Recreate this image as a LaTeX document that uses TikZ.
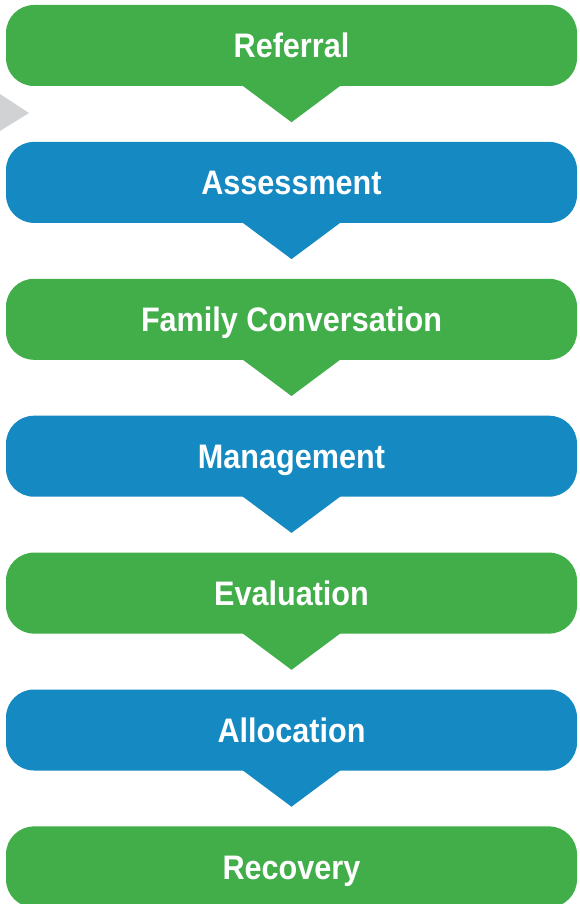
\documentclass[tikz,border=0pt]{standalone}
\usepackage{fontspec}
\setmainfont[FakeStretch=0.9]{Liberation Sans}
\usetikzlibrary{positioning}
\definecolor{stepgreen}{HTML}{41AE4A}
\definecolor{stepblue}{HTML}{1589C1}
\definecolor{pointgray}{HTML}{D1D2D4}
\begin{document}
\begin{tikzpicture}[x=1pt,y=-1pt,node distance=55.5pt]
\tikzstyle{stage}=[rounded corners=28pt, minimum width=571pt, minimum height=81pt, inner sep=0pt, text=white, text height=25pt, text depth=0pt, font=\fontsize{34}{34}\selectfont\bfseries]
\useasboundingbox (0,0) rectangle (579,904);
\fill [pointgray] (0,94) -- (29,113) -- (0,131) -- cycle;
\node [stage, fill=stepgreen] (ref) at (291.5,45.5) {Referral};
\node [stage, fill=stepblue, below=of ref] (ass) {Assessment};
\node [stage, fill=stepgreen, below=of ass] (fam) {Family Conversation};
\node [stage, fill=stepblue, below=of fam] (man) {Management};
\node [stage, fill=stepgreen, below=of man] (eva) {Evaluation};
\node [stage, fill=stepblue, below=of eva] (all) {Allocation};
\node [stage, fill=stepgreen, below=of all] (rec) {Recovery};
% pointers under each stage
\foreach \n/\c in {ref/stepgreen, ass/stepblue, fam/stepgreen, man/stepblue, eva/stepgreen, all/stepblue}
  \fill [\c] ([xshift=-51pt,yshift=2pt]\n.south) -- ([xshift=51pt,yshift=2pt]\n.south) -- ([yshift=-36pt]\n.south) -- cycle;
\end{tikzpicture}
\end{document}
